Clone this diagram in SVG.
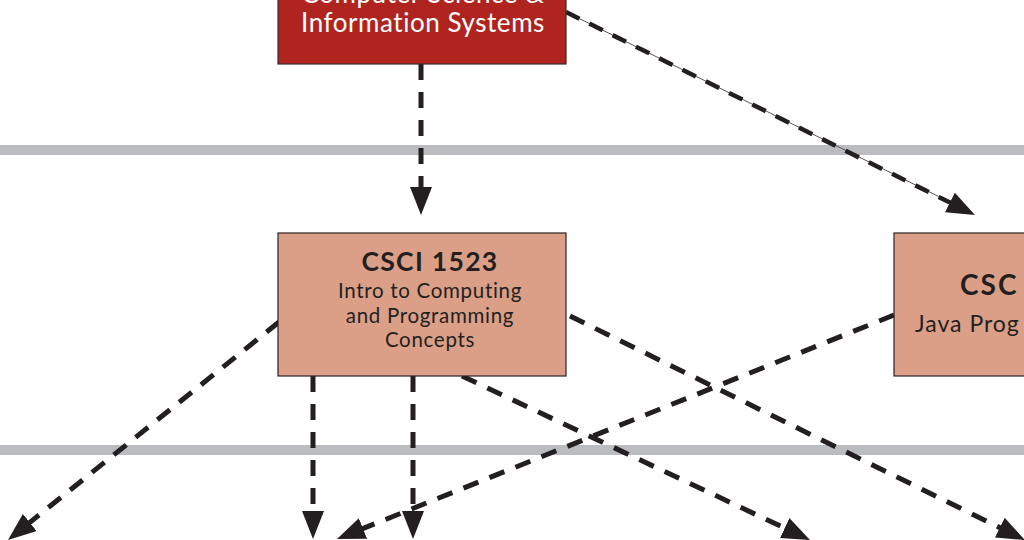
<svg xmlns="http://www.w3.org/2000/svg" width="1024" height="540" viewBox="0 0 1024 540">
<style>
.bar{fill:#bbbcbf}
.dept{fill:#b0241f;stroke:#3a2a2a;stroke-width:1.2}
.course{fill:#db9f87;stroke:#2a2222;stroke-width:1.2}
.conn{fill:none;stroke:#231f20;stroke-width:5;stroke-dasharray:16 12;marker-end:url(#arr)}
.thin{fill:none;stroke:#555;stroke-width:1}
text{font-family:Lato,"Noto Sans","Liberation Sans",sans-serif;text-anchor:middle}
.wt{fill:#ffffff;font-size:26px;letter-spacing:0.55px}
.tt{fill:#231f20;font-size:26.5px;font-weight:bold;letter-spacing:1.3px}
.st{fill:#231f20;font-size:20.5px;letter-spacing:0.7px}
.tt2{fill:#231f20;font-size:28px;font-weight:bold;letter-spacing:2px;text-anchor:start}
.st2{fill:#231f20;font-size:23px;letter-spacing:1px;text-anchor:start}
</style>
<defs>
<marker id="arr" viewBox="0 0 28 22" markerUnits="userSpaceOnUse" markerWidth="28" markerHeight="22" refX="20" refY="11" orient="auto">
<path d="M0,0 L28,11 L0,22 Z" fill="#231f20"/>
</marker>
</defs>
<rect class="bar" x="0" y="145" width="1024" height="10"/>
<rect class="bar" x="0" y="445" width="1024" height="10"/>
<g id="connectors">
<line class="thin" x1="566" y1="12" x2="960" y2="207"/>
<path class="conn" d="M566,12 L967.8,211.4" style="stroke-width:4.5;stroke-dasharray:15 11"/>
<path class="conn" d="M421,64 L421,207"/>
<path class="conn" d="M279,322 L14.2,535"/>
<path class="conn" d="M313,376 L313,531"/>
<path class="conn" d="M413,376 L413,531"/>
<path class="conn" d="M462,376 L802.8,536.6"/>
<path class="conn" d="M570,316 L1017.8,536.5"/>
<path class="conn" d="M894,315 L344.4,536"/>
</g>
<g id="node-csis">
<rect class="dept" x="278" y="-20" width="288" height="84"/>
<text class="wt" x="423" y="3">Computer Science &amp;</text>
<text class="wt" x="423" y="32">Information Systems</text>
</g>
<g id="node-csci1523">
<rect class="course" x="278" y="233" width="288" height="143"/>
<text class="tt" x="430" y="271">CSCI 1523</text>
<text class="st" x="430" y="298">Intro to Computing</text>
<text class="st" x="430" y="323">and Programming</text>
<text class="st" x="430" y="347">Concepts</text>
</g>
<g id="node-java">
<rect class="course" x="894" y="233" width="288" height="143"/>
<text class="tt2" x="960" y="295">CSC</text>
<text class="st2" x="915" y="332">Java Prog</text>
</g>
</svg>
